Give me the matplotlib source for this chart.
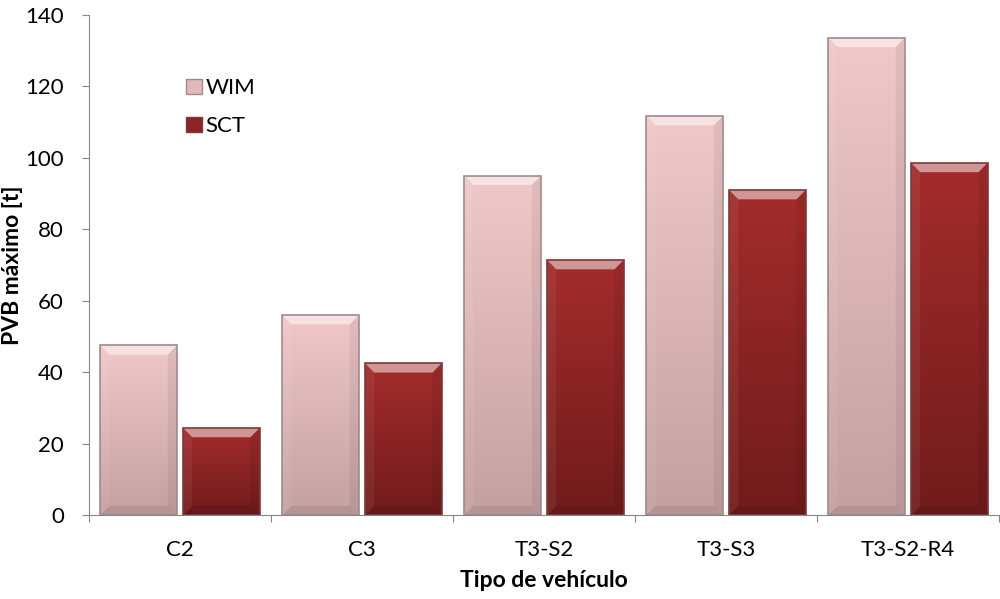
import numpy as np
import matplotlib.pyplot as plt
from matplotlib.patches import Polygon, Patch, Rectangle
from matplotlib.colors import LinearSegmentedColormap

categories = ['C2', 'C3', 'T3-S2', 'T3-S3', 'T3-S2-R4']
wim = [47.5, 56.0, 95.0, 111.7, 133.6]
sct = [24.4, 42.5, 71.4, 91.0, 98.6]

plt.rcParams['font.family'] = ['Lato', 'DejaVu Sans']

fig = plt.figure(figsize=(10, 5.99), dpi=100)
ax = fig.add_axes([0.089, 0.14, 0.91, 0.835])

w = 0.42
gap = 0.035
bx = 0.05    # bevel width in x units
by = 2.6     # bevel height in y units


def bevel_bar(xc, h, top, bottom, edge):
    x0, x1 = xc - w / 2, xc + w / 2
    grad = np.linspace(0, 1, 256).reshape(-1, 1)
    cmap = LinearSegmentedColormap.from_list('g', [bottom, top])
    im = ax.imshow(grad, extent=[x0, x1, 0, h], origin='lower', cmap=cmap,
                   aspect='auto', zorder=2, interpolation='bilinear')
    rect = Rectangle((x0, 0), w, h, facecolor='none', edgecolor=edge, lw=1.2, zorder=4)
    ax.add_patch(rect)
    im.set_clip_path(rect)
    # bevel facets
    ax.add_patch(Polygon([(x0, h), (x1, h), (x1 - bx, h - by), (x0 + bx, h - by)],
                         facecolor='white', alpha=0.5, lw=0, zorder=3))
    ax.add_patch(Polygon([(x0, 0), (x0, h), (x0 + bx, h - by), (x0 + bx, by)],
                         facecolor='white', alpha=0.06, lw=0, zorder=3))
    ax.add_patch(Polygon([(x1, 0), (x1, h), (x1 - bx, h - by), (x1 - bx, by)],
                         facecolor='black', alpha=0.06, lw=0, zorder=3))
    ax.add_patch(Polygon([(x0, 0), (x1, 0), (x1 - bx, by), (x0 + bx, by)],
                         facecolor='black', alpha=0.08, lw=0, zorder=3))


x = np.arange(len(categories))
for i in x:
    bevel_bar(i - gap / 2 - w / 2, wim[i], '#f0c8c9', '#c4a0a2', '#a08a8c')
    bevel_bar(i + gap / 2 + w / 2, sct[i], '#a42c2c', '#701b1b', '#7a3a3a')

ax.set_xlim(-0.5, len(categories) - 0.5)
ax.set_ylim(0, 140)
ax.set_yticks(range(0, 141, 20))
ax.set_xticks(np.arange(-0.5, len(categories), 1.0))
ax.set_xticklabels([])
ax.set_xticks(x, minor=True)
ax.set_xticklabels(categories, minor=True)
ax.tick_params(axis='x', which='minor', length=0, pad=18, labelsize=16)
ax.tick_params(axis='x', which='major', length=5, color='#868686')
ax.tick_params(axis='y', length=5, color='#868686', labelsize=16, pad=13)

for s in ['top', 'right']:
    ax.spines[s].set_visible(False)
for s in ['left', 'bottom']:
    ax.spines[s].set_color('#868686')

ax.set_xlabel('Tipo de vehículo', fontsize=16.5, fontweight='bold', labelpad=7)
ax.set_ylabel('PVB máximo [t]', fontsize=16.5, fontweight='bold', labelpad=2)

handles = [Patch(facecolor='#e2b8ba', edgecolor='#a08a8c', label='WIM'),
           Patch(facecolor='#8e2424', edgecolor='#7a3a3a', label='SCT')]
ax.legend(handles=handles, loc='upper left', bbox_to_anchor=(0.085, 0.913),
          frameon=False, fontsize=16, handlelength=0.7, handleheight=0.7,
          handletextpad=0.15, labelspacing=0.8)

fig.savefig('out.png', dpi=100)
